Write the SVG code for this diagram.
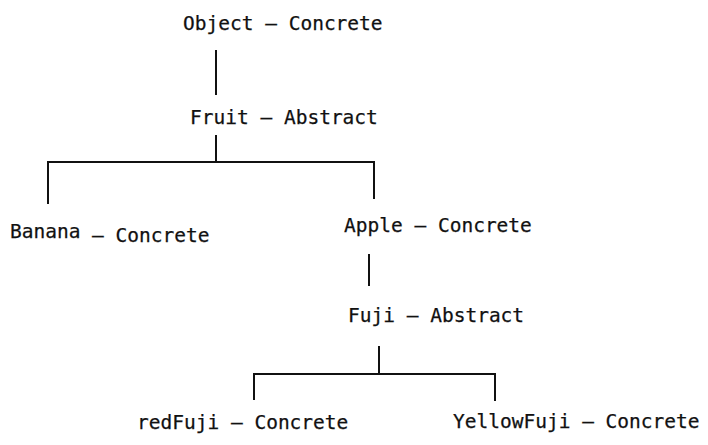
<svg xmlns="http://www.w3.org/2000/svg" width="708" height="445" viewBox="0 0 708 445">
<style>
text{font-family:"DejaVu Sans Mono","Liberation Mono",monospace;font-size:19.5px;fill:#111;stroke:#111;stroke-width:0.25}
.c line{stroke:#111;stroke-width:2;fill:none}
</style>
<rect width="708" height="445" fill="#fff"/>
<g class="c" id="connectors">
<line x1="216" y1="50" x2="216" y2="95"/>
<line x1="216" y1="135" x2="216" y2="162"/>
<line x1="47" y1="162" x2="375" y2="162"/>
<line x1="48" y1="162" x2="48" y2="204"/>
<line x1="374" y1="162" x2="374" y2="199"/>
<line x1="369" y1="254" x2="369" y2="286"/>
<line x1="379" y1="346" x2="379" y2="374"/>
<line x1="253" y1="374" x2="496" y2="374"/>
<line x1="254" y1="374" x2="254" y2="400"/>
<line x1="495" y1="374" x2="495" y2="401"/>
</g>
<g id="object"><text x="183" y="30">Object – Concrete</text></g>
<g id="fruit"><text x="190" y="124">Fruit – Abstract</text></g>
<g id="banana"><text x="10" y="238">Banana</text><text x="92" y="242">– Concrete</text></g>
<g id="apple"><text x="344" y="232">Apple – Concrete</text></g>
<g id="fuji"><text x="348" y="322">Fuji – Abstract</text></g>
<g id="redfuji"><text x="137" y="429">redFuji – Concrete</text></g>
<g id="yellowfuji"><text x="453" y="428">YellowFuji – Concrete</text></g>
</svg>
